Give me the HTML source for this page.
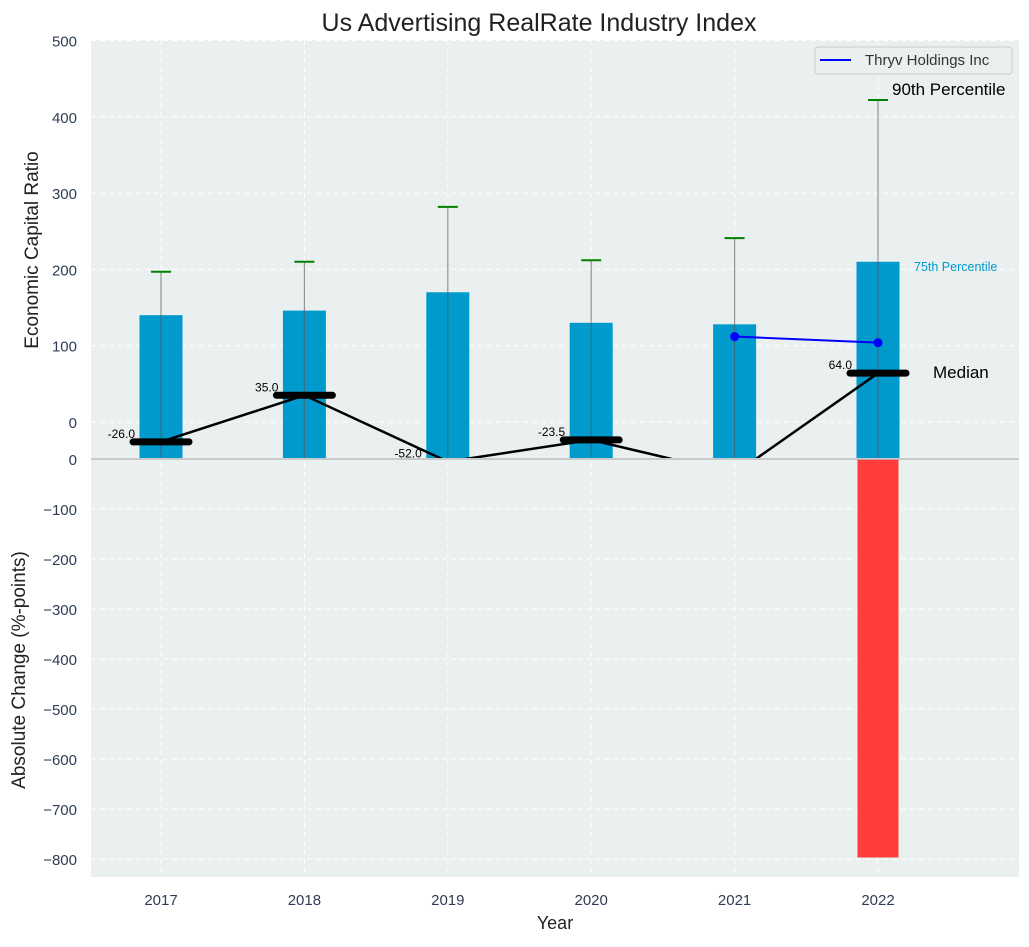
<!DOCTYPE html>
<html><head><meta charset="utf-8"><style>
body{margin:0;background:#fff;}
text{font-family:"Liberation Sans","DejaVu Sans",sans-serif;}
</style></head><body>
<svg id="chart" width="1029" height="942" xmlns="http://www.w3.org/2000/svg"></svg>
<script>
const years=["2017","2018","2019","2020","2021","2022"];
const p75=[140,146,170,130,128,210];
const p90=[197,210,282,212,241,422];
const medians=[-26,35,-52,-23.5,-68,64];
const medianLabels=["-26.0","35.0","-52.0","-23.5","","64.0"];
const thryvYears=["2021","2022"];
const thryv=[112,104];
const change=[0,0,0,0,0,-797];
const topTicks=[0,100,200,300,400,500];
const botTicks=[0,-100,-200,-300,-400,-500,-600,-700,-800];

const NS="http://www.w3.org/2000/svg";
const svg=document.getElementById('chart');
function el(tag,attrs,parent){const e=document.createElementNS(NS,tag);for(const k in attrs)e.setAttribute(k,attrs[k]);(parent||svg).appendChild(e);return e;}
const L=91,R=1019,T=40,MID=458,B=877;
const x=i=>161+i*143.4;
const yT=v=>422-v*0.763;
function yb(v){return 459+(-v)*0.5;}

let g=el('rect',{x:L,y:T,width:R-L,height:MID-T,fill:'#eaeff0'});

g=el('rect',{x:L,y:459,width:R-L,height:B-459,fill:'#eaeff0'});


topTicks.forEach(t=>{el('line',{x1:L,x2:R,y1:yT(t),y2:yT(t),stroke:'#fff','stroke-dasharray':'5,4','stroke-width':1});});
botTicks.forEach(t=>{el('line',{x1:L,x2:R,y1:yb(t),y2:yb(t),stroke:'#fff','stroke-dasharray':'5,4','stroke-width':1});});
years.forEach((y,i)=>{el('line',{x1:x(i),x2:x(i),y1:T,y2:B,stroke:'#fff','stroke-dasharray':'5,4','stroke-width':1});});

const defs=el('defs',{});const cp=el('clipPath',{id:'ct'},defs);el('rect',{x:L,y:T,width:R-L,height:MID-T},cp);
const topG=el('g',{'clip-path':'url(#ct)'});

years.forEach((y,i)=>{
  const b=el('rect',{x:x(i)-21.5,y:yT(p75[i]),width:43,height:MID-yT(p75[i]),fill:'#009ACD'},topG);
  
  const w=el('line',{x1:x(i),x2:x(i),y1:MID,y2:yT(p90[i]),stroke:'#555','stroke-opacity':0.6,'stroke-width':1.2},topG);
  
  const c=el('line',{x1:x(i)-10,x2:x(i)+10,y1:yT(p90[i]),y2:yT(p90[i]),stroke:'green','stroke-width':2},topG);
  
});
const mpath=el('polyline',{points:medians.map((m,i)=>x(i)+','+yT(m)).join(' '),fill:'none',stroke:'#000','stroke-width':2.5},topG);

medians.forEach((m,i)=>{
  const mk=el('line',{x1:x(i)-28,x2:x(i)+28,y1:yT(m),y2:yT(m),stroke:'#000','stroke-width':7,'stroke-linecap':'round'},topG);
  
  if(medianLabels[i]){const t=el('text',{x:x(i)-26,y:yT(m)-4,'font-size':12,'text-anchor':'end',fill:'#000'},topG);t.textContent=medianLabels[i];
  }
});
const ti=thryvYears.map(y=>years.indexOf(y));
const tl=el('polyline',{points:ti.map((k,j)=>x(k)+','+yT(thryv[j])).join(' '),fill:'none',stroke:'#0000ff','stroke-width':2});

ti.forEach((k,j)=>{const d=el('circle',{cx:x(k),cy:yT(thryv[j]),r:4.5,fill:'#0000ff'});
});

change.forEach((v,i)=>{if(v!==0){const r=el('rect',{x:x(i)-20.5,y:459,width:41,height:yb(v)-459,fill:'#ff3d3d'});
}});
el('line',{x1:L,x2:R,y1:459,y2:459,stroke:'#bbb','stroke-width':1.5});

topTicks.forEach(t=>{const e=el('text',{x:77,y:yT(t)+6,'font-size':15,'text-anchor':'end',fill:'#2e3d55'});e.textContent=t;
});
botTicks.forEach(t=>{const e=el('text',{x:77,y:yb(t)+6,'font-size':15,'text-anchor':'end',fill:'#2e3d55'});e.textContent=t===0?'0':'−'+(-t);
});
years.forEach((y,i)=>{const e=el('text',{x:x(i),y:905,'font-size':15,'text-anchor':'middle',fill:'#2e3d55'});e.textContent=y;
});

function txt(s,a,n){const e=el('text',a);e.textContent=s;return e;}
txt('90th Percentile',{x:892,y:95,'font-size':17,fill:'#000'},'label-90th');
txt('75th Percentile',{x:914,y:271,'font-size':12.5,fill:'#009ACD'},'label-75th');
txt('Median',{x:933,y:378,'font-size':17,fill:'#000'},'label-median');
txt('Us Advertising RealRate Industry Index',{x:539,y:31,'font-size':25,'text-anchor':'middle',fill:'#222'},'chart-title');
txt('Year',{x:555,y:929,'font-size':18,'text-anchor':'middle',fill:'#222'},'x-axis-title');
txt('Economic Capital Ratio',{x:38,y:250,'font-size':19,'text-anchor':'middle',fill:'#222',transform:'rotate(-90 38 250)'},'y-axis-title-top');
txt('Absolute Change (%-points)',{x:25,y:670,'font-size':19,'text-anchor':'middle',fill:'#222',transform:'rotate(-90 25 670)'},'y-axis-title-bottom');

const lg=el('g',{});
el('rect',{x:815,y:47,width:197,height:27,rx:3,fill:'#eaeff0',stroke:'#ccc'},lg);
el('line',{x1:820,x2:851,y1:60,y2:60,stroke:'#0000ff','stroke-width':2},lg);
const lt=el('text',{x:865,y:65,'font-size':15,fill:'#333'},lg);lt.textContent='Thryv Holdings Inc';

</script>
</body></html>
